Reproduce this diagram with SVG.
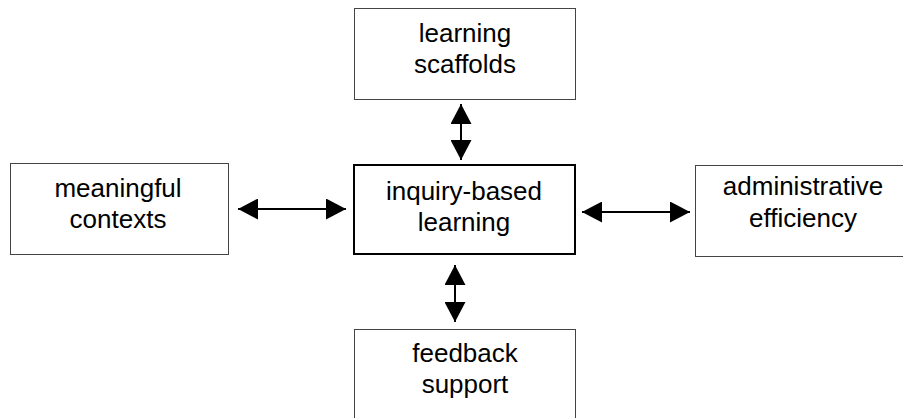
<svg xmlns="http://www.w3.org/2000/svg" width="903" height="418" viewBox="0 0 903 418">
<style>
.box{fill:#fff;stroke:#444;stroke-width:1}
.main{fill:#fff;stroke:#000;stroke-width:2}
text{font-family:"Liberation Sans",Arial,sans-serif;font-size:26px;fill:#000;text-anchor:middle}
.conn line{stroke:#000;stroke-width:2;marker-start:url(#ah);marker-end:url(#ah)}
</style>
<defs>
<marker id="ah" markerUnits="userSpaceOnUse" markerWidth="21" markerHeight="21" refX="20" refY="10.5" orient="auto-start-reverse" viewBox="0 0 21 21">
<path d="M0,0 L20,10.5 L0,21 Z" fill="#000"/>
</marker>
</defs>
<rect width="903" height="418" fill="#fff"/>
<g id="learning-scaffolds">
<rect class="box" x="354.5" y="8.5" width="221" height="91"/>
<text x="465" y="42">learning</text>
<text x="465" y="73">scaffolds</text>
</g>
<g id="meaningful-contexts">
<rect class="box" x="10.5" y="163.5" width="218" height="91"/>
<text x="118" y="197">meaningful</text>
<text x="118" y="228">contexts</text>
</g>
<g id="inquiry-based-learning">
<rect class="main" x="354" y="165" width="221" height="89"/>
<text x="464" y="200">inquiry-based</text>
<text x="464" y="231">learning</text>
</g>
<g id="administrative-efficiency">
<rect class="box" x="695.5" y="165.5" width="216" height="91"/>
<text x="803" y="195">administrative</text>
<text x="803" y="227">efficiency</text>
</g>
<g id="feedback-support">
<rect class="box" x="354.5" y="329.5" width="221" height="92"/>
<text x="465" y="362">feedback</text>
<text x="465" y="393">support</text>
</g>
<g id="connectors" class="conn">
<line x1="461" y1="104" x2="461" y2="160"/>
<line x1="238" y1="209" x2="346" y2="209"/>
<line x1="582" y1="212" x2="690" y2="212"/>
<line x1="455" y1="265" x2="455" y2="322"/>
</g>
</svg>
